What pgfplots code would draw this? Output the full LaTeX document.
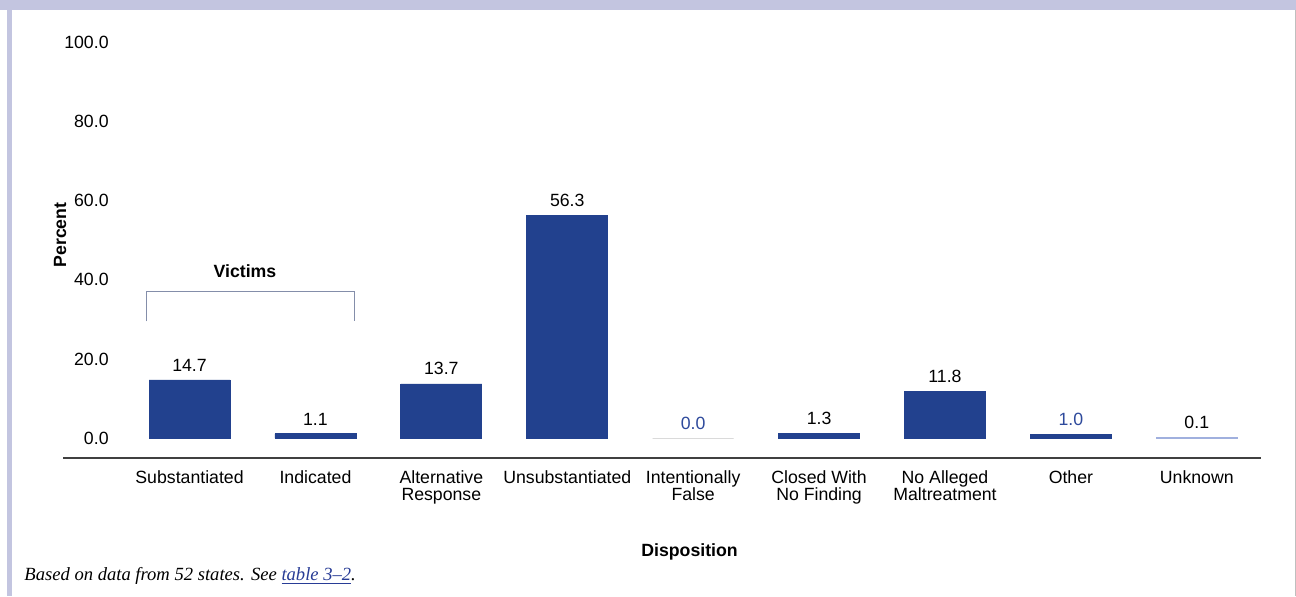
\documentclass[border=0pt]{standalone}
\usepackage{fontspec}
\setmainfont{Liberation Sans}
\newfontfamily\seriffont{Liberation Serif}
\usepackage{pgfplots}
\pgfplotsset{compat=1.18}
\definecolor{barblue}{RGB}{34,65,142}
\definecolor{lblblue}{RGB}{46,74,156}
\definecolor{lav}{RGB}{195,197,224}
\definecolor{zerogray}{RGB}{218,218,218}
\definecolor{ltblue}{RGB}{160,176,222}
\definecolor{brk}{RGB}{132,142,170}
\definecolor{linkblue}{RGB}{40,60,150}
\begin{document}
\fontsize{8.85}{8.5}\selectfont
\begin{tikzpicture}
\path[use as bounding box] (0,0) rectangle (648pt,298pt);
\fill[white] (0,0) rectangle (648pt,298pt);
\fill[lav] (0,293pt) rectangle (648pt,298pt);
\fill[lav] (3.5pt,0) rectangle (6pt,293pt);
\draw[black!25, line width=0.5pt] (647.6pt,0) -- (647.6pt,293pt);
\begin{axis}[
  at={(31.5pt,69pt)}, anchor=south west,
  scale only axis, width=599pt, height=208pt,
  xmin=-1.005, xmax=8.51, ymin=-5, ymax=100,
  axis x line=bottom, axis y line=left,
  x axis line style={-, draw=black!75, line width=0.75pt},
  y axis line style={draw=none},
  xtick={0,1,2,3,4,5,6,7,8},
  xticklabels={Substantiated, Indicated, Alternative\\Response, Unsubstantiated, Intentionally\\False, Closed With\\No Finding, No Alleged\\Maltreatment, Other, Unknown},
  xticklabel style={align=center, anchor=north, inner sep=0pt, yshift=-6.3pt},
  ytick={0,20,40,60,80,100},
  yticklabels={0.0,20.0,40.0,60.0,80.0,100.0},
  yticklabel style={anchor=east, inner sep=0pt, xshift=23pt},
  major tick length=0pt,
  xtick style={draw=none}, ytick style={draw=none},
  ybar, bar width=40.5pt, bar shift=0pt,
  clip=false,
  point meta=explicit symbolic,
  nodes near coords,
  every node near coord/.append style={inner sep=0pt, anchor=south, yshift=4.2pt},
  xlabel={\bfseries Disposition},
  ylabel={\bfseries Percent},
  every axis x label/.style={at={(rel axis cs:0.523,-0.226)}, anchor=center},
  every axis y label/.style={at={(rel axis cs:-0.0025,0.536)}, rotate=90, anchor=center},
]
\addplot[fill=barblue, draw=barblue, bar shift=0pt, nodes near coords style={text=black}] coordinates {
 (0,14.7) [14.7]
 (1,1.1) [1.1]
 (2,13.7) [13.7]
 (3,56.3) [56.3]
 (5,1.3) [1.3]
 (6,11.8) [11.8]
};
\addplot[fill=barblue, draw=barblue, bar shift=0pt, nodes near coords style={text=lblblue}] coordinates {
 (7,1.0) [1.0]
};
\addplot[fill=zerogray, draw=zerogray, line width=0.5pt, bar shift=0pt, nodes near coords style={text=lblblue}] coordinates {
 (4,0.0) [0.0]
};
\addplot[fill=ltblue, draw=ltblue, line width=0.5pt, bar shift=0pt, nodes near coords style={text=black}] coordinates {
 (8,0.1) [0.1]
};
\draw[brk, line width=0.6pt] (axis cs:-0.34,29.5) -- (axis cs:-0.34,37.1) -- (axis cs:1.31,37.1) -- (axis cs:1.31,29.5);
\node[font=\bfseries] at (axis cs:0.44,42.2) {Victims};
\end{axis}
\node[anchor=base west, inner sep=0pt, font={\seriffont\itshape\fontsize{9.3}{10}\selectfont}] at (12pt,8pt) {Based on data from 52 states. See \textcolor{linkblue}{\underline{table 3–2}}.};
\end{tikzpicture}
\end{document}
